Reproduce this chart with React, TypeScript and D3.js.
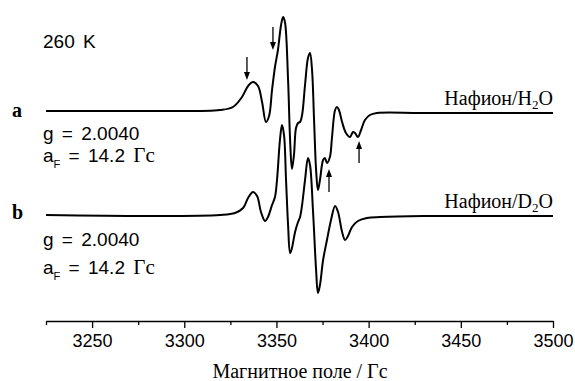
import React, { useEffect, useRef } from 'react';
import * as d3 from 'd3';

// spectrum a (Nafion/H2O): field, G and signal, a.u.
const fieldA = [3225, 3281.4, 3319.4, 3326.4, 3331.3, 3334.6, 3337.3, 3340.0, 3342.2, 3344.3, 3346.0, 3347.6, 3349.2, 3350.8, 3352.5, 3353.6, 3354.6, 3356.3, 3357.4, 3358.4, 3359.5, 3360.6, 3361.7, 3362.8, 3363.9, 3365.5, 3367.1, 3368.2, 3369.3, 3370.4, 3371.5, 3372.5, 3373.6, 3375.3, 3376.3, 3377.4, 3379.0, 3380.1, 3381.8, 3382.8, 3383.9, 3385.6, 3387.7, 3389.9, 3391.5, 3392.6, 3394.2, 3395.9, 3398.0, 3400.7, 3404.5, 3427.9, 3460, 3500];
const signalA = [0, 0, 1, 4, 14, 25, 29, 25, 9, -11, -5, 21, 44, 61, 86, 94, 89, 31, -29, -58, -44, -17, -12, -11, -4, 26, 53, 58, 41, -9, -59, -79, -69, -49, -47, -52, -46, -27, 1, 4, 1, -11, -22, -26, -21, -22, -26, -19, -9, -4, -2, -2, -2, -2];

// spectrum b (Nafion/D2O)
const fieldB = [3225, 3281.4, 3319.4, 3327.5, 3331.9, 3334.6, 3337.3, 3339.5, 3341.6, 3343.8, 3345.4, 3347.6, 3349.2, 3350.3, 3351.9, 3353.0, 3354.1, 3355.2, 3356.3, 3357.4, 3358.4, 3360.1, 3361.7, 3362.8, 3363.9, 3365.5, 3367.1, 3368.2, 3369.8, 3371.5, 3372.5, 3373.6, 3375.3, 3377.4, 3379.6, 3381.8, 3383.4, 3385.6, 3387.2, 3388.8, 3391.0, 3394.2, 3399.1, 3406.2, 3430, 3465, 3500];
const signalB = [0, -1, 0, 2, 7, 17, 23, 19, 3, -6, -2, 10, 18, 35, 75, 90, 80, 35, -10, -38, -33, -17, -7, -2, 10, 35, 57, 50, 5, -55, -78, -70, -45, -25, -5, 9, 3, -17, -25, -21, -12, -6, -3, -2, -1, -1, -1];

const offsetA = 0;
const offsetB = -104;

const majorTicks = [3250, 3300, 3350, 3400, 3450, 3500];
const minorTicks = [3225, 3275, 3325, 3375, 3425, 3475];

// arrows marking extra lines in spectrum a
const arrowField = [3334.0, 3348.1, 3378.5, 3394.8];
const arrowTail = [54, 84, -81, -52];
const arrowTip = [31, 61, -58, -30];

const SANS = '"Liberation Sans", Arial, sans-serif';
const SERIF = '"Liberation Serif", "Times New Roman", serif';

const EprChart = () => {
  const svgRef = useRef(null);

  useEffect(() => {
    const svg = d3.select(svgRef.current);
    svg.selectAll('*').remove();

    const x = d3.scaleLinear().domain([3225, 3500]).range([46, 553]);
    const y = d3.scaleLinear().domain([-210, 111]).range([321, 0]);

    const line = (offset) => d3.line()
      .x(d => x(d[0]))
      .y(d => y(d[1] + offset))
      .curve(d3.curveCatmullRom.alpha(0.5));

    svg.append('path')
      .datum(d3.zip(fieldA, signalA))
      .attr('fill', 'none')
      .attr('stroke', '#000')
      .attr('stroke-width', 2)
      .attr('stroke-linejoin', 'round')
      .attr('d', line(offsetA));

    svg.append('path')
      .datum(d3.zip(fieldB, signalB))
      .attr('fill', 'none')
      .attr('stroke', '#000')
      .attr('stroke-width', 2)
      .attr('stroke-linejoin', 'round')
      .attr('d', line(offsetB));

    // arrows
    arrowField.forEach((f, i) => {
      const ax = x(f);
      const y0 = y(arrowTail[i] + offsetA);
      const y1 = y(arrowTip[i] + offsetA);
      const dir = y1 > y0 ? 1 : -1;
      svg.append('line')
        .attr('x1', ax).attr('x2', ax)
        .attr('y1', y0).attr('y2', y1 - dir * 6)
        .attr('stroke', '#000')
        .attr('stroke-width', 1.3);
      svg.append('path')
        .attr('d', `M${ax},${y1} L${ax - 3},${y1 - dir * 8} L${ax + 3},${y1 - dir * 8} Z`)
        .attr('fill', '#000');
    });

    // x axis
    const axisY = y(-210);
    const major = svg.append('g')
      .attr('transform', `translate(0,${axisY})`)
      .call(d3.axisBottom(x).tickValues(majorTicks).tickSize(7).tickSizeOuter(0).tickPadding(6).tickFormat(d3.format('d')));
    major.select('.domain').attr('stroke-width', 1.3);
    major.selectAll('.tick line').attr('stroke-width', 1.3);
    major.selectAll('text')
      .attr('font-family', SANS)
      .attr('font-size', 18)
      .attr('fill', '#000');

    const minor = svg.append('g')
      .attr('transform', `translate(0,${axisY})`)
      .call(d3.axisBottom(x).tickValues(minorTicks).tickSize(4).tickSizeOuter(0).tickFormat(() => ''));
    minor.select('.domain').remove();
    minor.selectAll('.tick line').attr('stroke-width', 1.3);

    svg.append('text')
      .attr('x', 300)
      .attr('y', 378)
      .attr('text-anchor', 'middle')
      .attr('font-family', SERIF)
      .attr('font-size', 20)
      .text('Магнитное поле / Гс');

    // annotations
    const sansText = (tx, ty, s) => svg.append('text')
      .attr('x', tx).attr('y', ty)
      .attr('font-family', SANS)
      .attr('font-size', 19)
      .attr('word-spacing', 3)
      .text(s);

    sansText(43, 48, '260 K');

    const letter = (ty, s) => svg.append('text')
      .attr('x', 12).attr('y', ty)
      .attr('font-family', SERIF)
      .attr('font-weight', 'bold')
      .attr('font-size', 20)
      .text(s);
    letter(117, 'a');
    letter(219, 'b');

    const params = (gy, ay) => {
      sansText(43, gy, 'g = 2.0040');
      const t = svg.append('text')
        .attr('x', 43).attr('y', ay)
        .attr('font-family', SANS)
        .attr('font-size', 19)
        .attr('word-spacing', 3);
      t.append('tspan').text('a');
      t.append('tspan').attr('font-size', 11).attr('dy', 6).text('F');
      t.append('tspan').attr('dy', -6).text(' = 14.2 ');
      t.append('tspan').attr('font-family', SERIF).attr('font-size', 21).text('Гс');
    };
    params(140, 162);
    params(246, 274);

    const sample = (ty, atom) => {
      const t = svg.append('text')
        .attr('x', 553).attr('y', ty)
        .attr('text-anchor', 'end')
        .attr('font-family', SERIF)
        .attr('font-size', 20);
      t.append('tspan').text(`Нафион/${atom}`);
      t.append('tspan').attr('font-size', 13).attr('dy', 4).text('2');
      t.append('tspan').attr('dy', -4).text('O');
    };
    sample(105, 'H');
    sample(208, 'D');
  }, []);

  return (
    <svg
      ref={svgRef}
      width={575}
      height={381}
      style={{ position: 'absolute', left: 0, top: 0, background: '#fff' }}
    />
  );
};

export default function App() {
  return <EprChart />;
}
